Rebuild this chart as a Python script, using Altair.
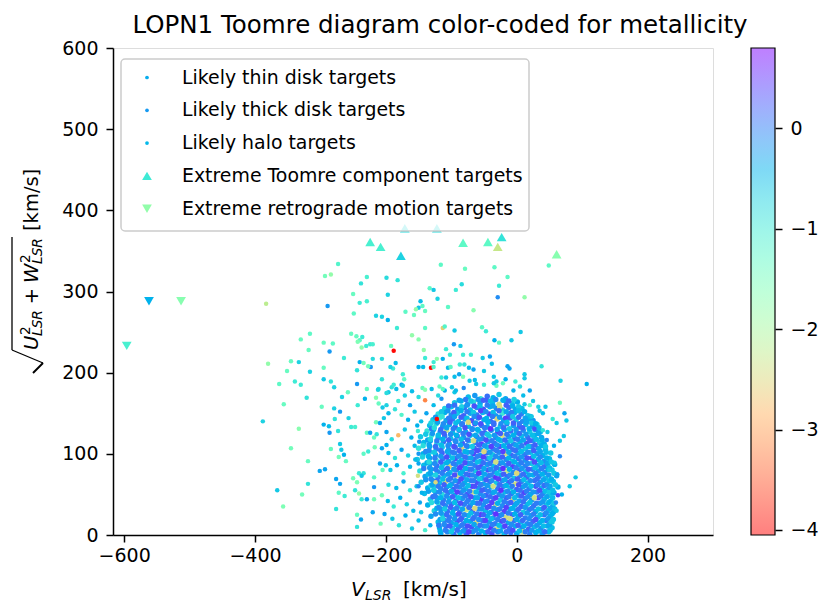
import math
import altair as alt
import pandas as pd

FONT = "DejaVu Sans"

# ---------------- data ----------------
# Likely thin disk targets (dense core), V_LSR [km/s]
thin_x = [
    -74, -64, -55, -45, -36, -27, -17,
    -95, -85, -75, -66, -56, -46, -37, -27, -17, -7, 1,
    -110, -100, -90, -80, -71, -61, -51, -41, -31, -22, -12, -2, 8,
    -120, -110, -100, -91, -81, -71, -61, -52, -42, -32, -22, -12, -3, 7, 17,
    -128, -118, -108, -98, -89, -79, -69, -59, -50, -40, -30, -20, -10, -1, 9, 19, 25,
    -133, -123, -113, -103, -94, -84, -74, -64, -54, -45, -35, -25, -15, -5, 4, 14, 24, 31,
    -137, -127, -117, -107, -98, -88, -78, -68, -58, -49, -39, -29, -19, -9, 0, 10, 20, 30, 36,
    -147, -130, -120, -110, -101, -91, -81, -71, -61, -52, -42, -32, -22, -12, -3, 7, 17, 27, 38,
    -142, -132, -122, -112, -103, -93, -83, -73, -63, -54, -44, -34, -24, -14, -5, 5, 15, 25, 35, 42,
    -150, -133, -123, -114, -104, -94, -84, -75, -65, -55, -45, -36, -26, -16, -6, 3, 13, 23, 33, 44,
    -143, -133, -124, -114, -104, -95, -85, -75, -66, -56, -46, -37, -27, -17, -8, 2, 12, 21, 31, 40, 52,
    -152, -133, -123, -113, -104, -94, -84, -75, -65, -55, -45, -36, -26, -16, -6, 3, 13, 23, 33, 42, 50,
    -142, -132, -122, -113, -103, -93, -84, -74, -64, -55, -45, -35, -26, -16, -6, 3, 13, 23, 32, 42, 58,
    -148, -131, -121, -112, -102, -92, -83, -73, -63, -54, -44, -34, -25, -15, -5, 4, 14, 24, 33, 43, 54,
    -140, -130, -120, -111, -101, -91, -82, -72, -62, -53, -43, -33, -24, -14, -4, 5, 15, 25, 34, 44, 61,
    -146, -128, -118, -109, -99, -89, -80, -70, -60, -51, -41, -31, -22, -12, -2, 7, 17, 27, 36, 46, 56,
    -136, -126, -116, -107, -97, -87, -78, -68, -58, -49, -39, -29, -20, -10, 0, 9, 19, 29, 38, 48, 63,
    -141, -124, -114, -105, -95, -85, -76, -66, -56, -47, -37, -27, -18, -8, 2, 11, 21, 31, 40, 50, 57,
    -132, -122, -112, -103, -93, -83, -74, -64, -54, -45, -35, -25, -16, -6, 4, 13, 23, 33, 42, 52,
    -136, -119, -109, -100, -90, -80, -71, -61, -51, -42, -32, -22, -13, -3, 7, 16, 26, 36, 45, 55,
    -126, -116, -106, -97, -87, -77, -68, -58, -48, -39, -29, -19, -10, 0, 10, 19, 29, 39, 48, 56,
    -131, -113, -103, -94, -84, -74, -65, -55, -45, -36, -26, -16, -7, 3, 13, 22, 32, 42, 51,
    -120, -110, -100, -91, -81, -71, -62, -52, -42, -33, -23, -13, -4, 6, 16, 25, 35, 45, 54,
    -118, -108, -98, -89, -79, -69, -60, -50, -40, -31, -21, -11, -2, 8, 18, 27, 37, 47, 54,
    -116, -106, -96, -87, -77, -67, -58, -48, -38, -29, -19, -9, 0, 10, 20, 29, 39, 49,
]
# sqrt(U^2 + W^2) [km/s]
thin_y = [
    170, 172, 168, 171, 169, 173, 168,
    163, 165, 161, 164, 162, 166, 163, 161, 165, 162, 164,
    156, 158, 155, 157, 154, 157, 155, 158, 156, 154, 157, 155, 156,
    149, 151, 148, 150, 147, 150, 148, 151, 149, 147, 150, 148, 151, 149, 147,
    142, 144, 141, 143, 140, 143, 141, 144, 142, 140, 143, 141, 144, 142, 140, 143, 141,
    135, 137, 134, 136, 133, 136, 134, 137, 135, 133, 136, 134, 137, 135, 133, 136, 134, 136,
    128, 130, 127, 129, 126, 129, 127, 130, 128, 126, 129, 127, 130, 128, 126, 129, 127, 130, 127,
    121, 123, 120, 122, 119, 122, 120, 123, 121, 119, 122, 120, 123, 121, 119, 122, 120, 123, 120,
    114, 116, 113, 115, 112, 115, 113, 116, 114, 112, 115, 113, 116, 114, 112, 115, 113, 116, 114, 112,
    107, 109, 106, 108, 105, 108, 106, 109, 107, 105, 108, 106, 109, 107, 105, 108, 106, 109, 107, 105,
    100, 102, 99, 101, 98, 101, 99, 102, 100, 98, 101, 99, 102, 100, 98, 101, 99, 102, 100, 98, 101,
    93, 95, 92, 94, 91, 94, 92, 95, 93, 91, 94, 92, 95, 93, 91, 94, 92, 95, 93, 91, 94,
    86, 88, 85, 87, 84, 87, 85, 88, 86, 84, 87, 85, 88, 86, 84, 87, 85, 88, 86, 84, 87,
    79, 81, 78, 80, 77, 80, 78, 81, 79, 77, 80, 78, 81, 79, 77, 80, 78, 81, 79, 77, 80,
    72, 74, 71, 73, 70, 73, 71, 74, 72, 70, 73, 71, 74, 72, 70, 73, 71, 74, 72, 70, 73,
    65, 67, 64, 66, 63, 66, 64, 67, 65, 63, 66, 64, 67, 65, 63, 66, 64, 67, 65, 63, 66,
    58, 60, 57, 59, 56, 59, 57, 60, 58, 56, 59, 57, 60, 58, 56, 59, 57, 60, 58, 56, 59,
    51, 53, 50, 52, 49, 52, 50, 53, 51, 49, 52, 50, 53, 51, 49, 52, 50, 53, 51, 49, 52,
    44, 46, 43, 45, 42, 45, 43, 46, 44, 42, 45, 43, 46, 44, 42, 45, 43, 46, 44, 42,
    37, 39, 36, 38, 35, 38, 36, 39, 37, 35, 38, 36, 39, 37, 35, 38, 36, 39, 37, 35,
    30, 32, 29, 31, 28, 31, 29, 32, 30, 28, 31, 29, 32, 30, 28, 31, 29, 32, 30, 28,
    23, 25, 22, 24, 21, 24, 22, 25, 23, 21, 24, 22, 25, 23, 21, 24, 22, 25, 23,
    16, 18, 15, 17, 14, 17, 15, 18, 16, 14, 17, 15, 18, 16, 14, 17, 15, 18, 16,
    9, 11, 8, 10, 7, 10, 8, 11, 9, 7, 10, 8, 11, 9, 7, 10, 8, 11, 9,
    2, 4, 1, 3, 2, 4, 1, 3, 2, 4, 1, 3, 2, 4, 1, 3, 2, 4,
]
# [Fe/H]
thin_feh = [
    -0.5, -0.2, -0.9, 0.1, -0.4, -0.6, -0.3,
    -0.6, -0.4, 0.0, -0.8, -0.3, 0.2, -0.5, -2.4, -0.1, -0.6, -0.4,
    -0.7, -0.5, -0.2, 0.1, -0.5, -0.1, 0.3, -0.4, 0.0, -0.6, 0.1, -0.3, -0.5,
    -0.8, -0.4, -0.1, -0.6, 0.2, -0.3, 0.0, -0.5, 0.4, -0.2, -1.0, 0.1, -0.4, 0.0, -0.6,
    -0.6, -1.1, -0.3, 0.1, -0.5, -0.2, 0.3, -0.1, -0.4, 0.1, -2.5, -0.3, 0.2, -0.6, -0.1, -0.4, -0.2,
    -0.5, -0.8, -0.2, -0.4, 0.2, -0.1, -0.5, 0.4, 0.0, -0.3, 0.1, -0.6, 0.0, -0.2, 0.3, -0.5, -0.1, -0.7,
    -0.9, -0.4, -0.1, -2.3, -0.5, 0.1, -0.3, 0.0, -0.6, 0.2, -0.2, 0.4, -0.4, 0.1, -0.3, -0.1, -0.6, -0.2, -0.5,
    -0.6, -1.0, -0.3, 0.0, -0.5, 0.3, -0.2, -0.4, 0.1, -0.1, -0.6, 0.0, -2.4, -0.3, 0.2, -0.5, 0.1, -0.4, -0.3,
    -0.5, -0.3, -0.8, 0.1, -0.4, -0.1, 0.2, -0.6, 0.0, 0.4, -0.3, 0.1, -0.5, -0.2, 0.0, -0.4, 0.3, -0.1, -0.6, -0.4,
    -0.9, -0.4, 0.0, -0.6, -0.2, 0.1, -2.6, -0.3, 0.2, -0.1, -0.5, 0.0, 0.3, -0.4, 0.1, -0.2, -0.6, 0.0, -0.3, -0.5,
    -0.4, -0.7, -0.2, 0.2, -0.5, -0.1, 0.0, -0.4, 0.4, -0.2, 0.1, -0.6, -0.1, -2.4, 0.2, -0.3, 0.0, -0.5, -0.2, -0.4, -0.6,
    -0.6, -0.2, -1.0, 0.0, -0.3, 0.3, -0.5, -0.1, 0.1, -0.4, 0.0, 0.2, -0.3, -0.1, -0.5, 0.1, -0.2, 0.4, -0.4, -0.1, -0.5,
    -0.5, -0.3, 0.1, -0.6, -2.5, -0.1, 0.2, -0.4, 0.0, 0.3, -0.2, -0.5, 0.1, -0.1, 0.4, -0.3, 0.0, -0.6, -0.2, 0.1, -0.4,
    -0.8, -0.4, -0.1, 0.2, -0.5, 0.0, -0.3, 0.1, -0.6, -0.2, 0.3, 0.0, -0.4, -2.3, -0.1, 0.2, -0.5, 0.0, -0.3, -0.1, -0.6,
    -0.3, -0.9, 0.0, -0.5, 0.1, -2.4, -0.2, 0.3, -0.1, -0.4, 0.0, 0.5, -0.3, 0.1, -0.6, -0.1, 0.2, -0.4, 0.0, -0.5, -0.3,
    -0.6, -0.2, -0.5, -2.5, -0.1, 0.2, -0.4, 0.0, 0.3, -0.3, 0.1, -0.6, -0.1, 0.2, -2.4, 0.0, -0.5, 0.1, -0.2, -0.4, -0.5,
    -0.4, -0.7, 0.0, -0.3, 0.2, -0.1, -0.5, 0.4, -0.2, 0.0, -0.4, 0.1, -0.1, -0.6, 0.2, -0.3, 0.0, 0.3, -0.5, -0.1, -0.4,
    -0.5, -0.2, -0.8, 0.1, -0.4, 0.0, 0.3, -2.4, -0.1, 0.2, -0.3, 0.0, -0.5, 0.1, -0.2, 0.4, -0.4, 0.0, -0.1, -0.6, -0.3,
    -0.6, -0.3, 0.0, -0.5, 0.2, -0.2, 0.0, -0.4, 0.5, -0.1, 0.1, -0.6, 0.2, -2.5, -0.3, 0.0, -0.2, 0.3, -0.5, -0.4,
    -0.4, -0.9, -0.1, 0.2, -0.5, 0.0, -0.3, 0.1, -0.2, 0.4, -2.4, -0.1, 0.0, -0.4, 0.2, -0.5, 0.1, -0.2, -0.6, -0.3,
    -0.7, -0.2, 0.1, -0.4, 0.0, -2.3, 0.3, -0.1, -0.5, 0.1, -0.2, 0.4, -0.3, 0.0, -0.6, 0.1, -0.4, -0.1, -0.5, -0.3,
    -0.3, -0.6, 0.0, -0.2, 0.2, -0.5, 0.0, 0.5, -0.3, -0.1, 0.1, -2.4, 0.2, -0.4, 0.0, -0.2, -0.5, 0.1, -0.4,
    -0.5, 0.0, -0.3, 0.3, -0.1, -0.4, -2.5, 0.1, -0.2, 0.0, 0.4, -0.3, 0.1, -0.5, -0.1, 0.2, -0.4, 0.0, -0.6,
    -0.4, 0.2, -0.6, -0.1, 0.0, 0.3, -0.3, -0.1, 0.5, -2.4, -0.2, 0.1, -0.4, 0.0, 0.2, -0.5, -0.1, -0.3, -0.5,
    -0.3, -0.1, 0.1, -0.5, 0.2, -0.2, 0.0, -0.4, 0.3, -0.1, -0.5, 0.1, -0.3, -2.3, 0.0, -0.4, -0.2, -0.5,
]

# more thin disk targets, lying between the rows above
thin2_x = [
    -88, -78, -70, -59, -51, -40, -32, -21, -12, -4,
    -104, -95, -84, -76, -65, -56, -45, -36, -26, -16, -6, 3,
    -115, -105, -96, -85, -76, -66, -55, -47, -36, -27, -16, -8, 3, 12,
    -124, -114, -104, -95, -85, -76, -65, -57, -46, -37, -26, -17, -6, 3, 13, 21,
    -131, -121, -112, -102, -93, -83, -74, -63, -55, -44, -35, -24, -15, -5, 4, 15, 23, 29,
    -130, -126, -116, -107, -97, -88, -79, -68, -60, -49, -40, -30, -20, -11, -1, 9, 19, 28, 34,
    -139, -129, -120, -111, -101, -92, -82, -73, -63, -53, -45, -34, -25, -15, -5, 4, 14, 24, 33,
    -136, -132, -122, -113, -104, -94, -85, -75, -66, -57, -47, -38, -28, -18, -9, 1, 10, 20, 30, 39,
    -143, -134, -124, -115, -105, -96, -86, -77, -68, -58, -49, -39, -30, -20, -11, -1, 8, 18, 28, 38, 44,
    -139, -134, -126, -116, -106, -98, -88, -79, -69, -60, -50, -41, -31, -21, -12, -2, 7, 17, 26, 36, 45,
    -144, -135, -125, -116, -107, -98, -89, -79, -70, -60, -51, -41, -32, -22, -12, -3, 7, 16, 26, 36, 46,
    -137, -134, -125, -116, -107, -97, -88, -79, -70, -60, -51, -41, -32, -22, -12, -3, 7, 17, 27, 37, 47, 53,
    -142, -133, -124, -115, -106, -96, -87, -78, -69, -59, -50, -40, -31, -21, -11, -1, 8, 18, 28, 38, 48, 50,
    -135, -132, -124, -114, -105, -95, -86, -77, -68, -58, -49, -39, -30, -20, -10, 0, 10, 19, 29, 39, 49, 57,
    -139, -131, -122, -113, -104, -94, -85, -76, -66, -57, -47, -38, -28, -18, -8, 1, 11, 21, 31, 41, 50, 53,
    -131, -129, -120, -111, -102, -92, -83, -74, -64, -55, -45, -36, -26, -16, -7, 3, 13, 22, 32, 42, 51, 59,
    -135, -127, -118, -109, -100, -91, -81, -72, -62, -53, -43, -34, -24, -14, -5, 5, 15, 25, 35, 44, 53, 55,
    -128, -125, -116, -107, -98, -89, -79, -70, -60, -51, -41, -32, -22, -12, -3, 7, 17, 27, 37, 46, 55,
    -130, -122, -113, -104, -95, -86, -76, -67, -57, -48, -38, -29, -19, -9, 0, 10, 20, 30, 40, 49, 57,
    -122, -119, -110, -101, -92, -83, -73, -64, -54, -45, -35, -26, -16, -6, 3, 13, 23, 33, 42, 51, 58,
    -124, -116, -107, -98, -89, -80, -70, -61, -51, -42, -32, -23, -13, -3, 6, 16, 26, 36, 45, 54,
    -117, -113, -104, -95, -86, -77, -67, -58, -48, -39, -29, -20, -10, 0, 9, 19, 29, 39, 48, 56,
    -119, -111, -102, -93, -84, -75, -65, -56, -46, -37, -27, -18, -8, 2, 11, 21, 31, 41, 50,
    -117, -109, -100, -91, -82, -73, -63, -54, -44, -35, -25, -16, -6, 4, 13, 23, 33, 43, 51,
]
thin2_y = [
    166, 167, 165, 167, 166, 165, 167, 166, 165, 167,
    159, 160, 158, 160, 159, 158, 160, 159, 158, 160, 159, 158,
    152, 153, 151, 153, 152, 151, 153, 152, 151, 153, 152, 151, 153, 152,
    145, 146, 144, 146, 145, 144, 146, 145, 144, 146, 145, 144, 146, 145, 144, 146,
    138, 139, 137, 139, 138, 137, 139, 138, 137, 139, 138, 137, 139, 138, 137, 139, 138, 137,
    131, 132, 130, 132, 131, 130, 132, 131, 130, 132, 131, 130, 132, 131, 130, 132, 131, 130, 132,
    124, 125, 123, 125, 124, 123, 125, 124, 123, 125, 124, 123, 125, 124, 123, 125, 124, 123, 125,
    117, 118, 116, 118, 117, 116, 118, 117, 116, 118, 117, 116, 118, 117, 116, 118, 117, 116, 118, 117,
    110, 111, 109, 111, 110, 109, 111, 110, 109, 111, 110, 109, 111, 110, 109, 111, 110, 109, 111, 110, 109,
    103, 104, 102, 104, 103, 102, 104, 103, 102, 104, 103, 102, 104, 103, 102, 104, 103, 102, 104, 103, 102,
    96, 97, 95, 97, 96, 95, 97, 96, 95, 97, 96, 95, 97, 96, 95, 97, 96, 95, 97, 96, 95,
    89, 90, 88, 90, 89, 88, 90, 89, 88, 90, 89, 88, 90, 89, 88, 90, 89, 88, 90, 89, 88, 90,
    82, 83, 81, 83, 82, 81, 83, 82, 81, 83, 82, 81, 83, 82, 81, 83, 82, 81, 83, 82, 81, 83,
    75, 76, 74, 76, 75, 74, 76, 75, 74, 76, 75, 74, 76, 75, 74, 76, 75, 74, 76, 75, 74, 76,
    68, 69, 67, 69, 68, 67, 69, 68, 67, 69, 68, 67, 69, 68, 67, 69, 68, 67, 69, 68, 67, 69,
    61, 62, 60, 62, 61, 60, 62, 61, 60, 62, 61, 60, 62, 61, 60, 62, 61, 60, 62, 61, 60, 62,
    54, 55, 53, 55, 54, 53, 55, 54, 53, 55, 54, 53, 55, 54, 53, 55, 54, 53, 55, 54, 53, 55,
    47, 48, 46, 48, 47, 46, 48, 47, 46, 48, 47, 46, 48, 47, 46, 48, 47, 46, 48, 47, 46,
    40, 41, 39, 41, 40, 39, 41, 40, 39, 41, 40, 39, 41, 40, 39, 41, 40, 39, 41, 40, 39,
    33, 34, 32, 34, 33, 32, 34, 33, 32, 34, 33, 32, 34, 33, 32, 34, 33, 32, 34, 33, 32,
    26, 27, 25, 27, 26, 25, 27, 26, 25, 27, 26, 25, 27, 26, 25, 27, 26, 25, 27, 26,
    19, 20, 18, 20, 19, 18, 20, 19, 18, 20, 19, 18, 20, 19, 18, 20, 19, 18, 20, 19,
    12, 13, 11, 13, 12, 11, 13, 12, 11, 13, 12, 11, 13, 12, 11, 13, 12, 11, 13,
    5, 6, 4, 6, 5, 4, 6, 5, 4, 6, 5, 4, 6, 5, 4, 6, 5, 4, 6,
]
thin2_feh = [
    -0.3, 0.0, -0.6, -0.2, 0.2, -0.5, -0.1, -0.4, 0.1, -0.7,
    0.1, 0.1, -0.7, -0.2, 0.3, -0.5, 0.0, -0.3, -2.4, 0.2, -0.4, -0.6,
    -0.6, -0.2, 0.2, -0.4, 0.0, -0.6, 0.4, -0.1, -0.5, 0.1, -0.3, 0.0, -0.5, -0.4,
    -0.2, -0.9, 0.0, -0.3, 0.2, -0.5, -0.1, 0.3, -0.4, 0.0, -0.2, 0.4, -0.6, 0.1, -0.3, -0.5,
    -0.7, -0.3, -0.1, 0.2, -0.5, 0.0, -2.5, -0.2, 0.3, -0.4, 0.1, -0.1, -0.5, 0.2, 0.0, -0.3, -0.6, -0.4,
    0.0, -0.8, 0.1, -0.3, 0.0, -0.5, 0.3, -0.1, -0.4, 0.0, 0.5, -0.3, 0.1, -0.6, -0.2, 0.2, -0.4, -0.1, -0.5,
    -0.6, -0.2, -0.5, 0.2, -0.1, -0.4, 0.0, 0.3, -0.3, 0.1, -0.6, -0.2, 0.2, 0.0, -0.4, 0.1, -0.2, -0.5, -0.3,
    -0.3, -0.7, 0.0, -0.4, 0.2, -0.1, -0.5, 0.1, -2.4, -0.2, 0.3, 0.0, -0.4, 0.1, -0.6, 0.0, -0.3, 0.2, -0.5, -0.4,
    -0.8, -0.3, 0.1, -0.5, -0.1, 0.3, -0.3, 0.0, -0.6, 0.2, -0.2, 0.4, -0.1, -0.4, 0.1, -0.3, 0.0, -0.5, 0.2, -0.4, -0.6,
    -0.1, -0.1, -0.6, 0.1, -0.3, 0.0, 0.2, -0.4, -0.1, 0.3, -2.5, -0.2, 0.0, 0.4, -0.3, 0.1, -0.5, -0.1, 0.2, -0.3, -0.5,
    -0.7, -0.4, 0.0, -0.2, 0.3, -0.5, -0.1, 0.1, -0.3, 0.0, 0.4, -0.6, -0.1, 0.2, -0.4, 0.0, -0.2, 0.3, -0.5, -0.1, -0.4,
    -0.4, -0.8, -0.1, 0.2, -0.4, 0.0, -0.3, 0.3, -0.1, -0.5, 0.1, 0.0, -2.4, -0.2, 0.2, -0.4, 0.0, -0.1, 0.3, -0.5, -0.3, -0.6,
    0.0, -0.2, 0.0, -0.5, 0.1, -0.2, 0.4, -0.4, 0.0, 0.2, -0.3, -0.1, 0.1, 0.5, -0.4, 0.0, -0.2, 0.2, -0.5, 0.0, -0.4, -0.5,
    -0.5, -0.3, -0.7, 0.0, -0.2, 0.3, -0.4, 0.1, -0.1, 0.4, -0.3, 0.0, -0.5, 0.2, -0.1, -2.5, 0.1, -0.3, 0.0, -0.4, -0.2, -0.6,
    -0.2, -0.1, 0.1, -0.5, 0.0, -0.2, 0.3, -0.3, 0.0, -0.6, 0.2, -0.1, 0.4, -0.3, 0.0, 0.2, -0.5, -0.1, 0.1, -0.3, -0.5, -0.4,
    -0.7, -0.3, 0.0, 0.2, -0.4, 0.1, -0.1, -0.5, 0.3, 0.0, -0.2, -2.4, 0.1, -0.4, 0.0, 0.3, -0.2, -0.5, 0.0, 0.1, -0.3, -0.6,
    -0.3, -0.6, -0.1, 0.1, -0.3, 0.4, -0.2, 0.0, -0.5, 0.2, 0.0, -0.3, 0.5, -0.1, -0.4, 0.1, 0.0, -0.2, 0.3, -0.5, -0.4, -0.5,
    0.1, 0.0, -0.4, -0.1, 0.2, -0.5, 0.0, 0.3, -0.3, -0.1, 0.1, 0.4, -0.2, 0.0, -0.5, 0.2, -0.1, -2.4, 0.0, -0.3, -0.5,
    -0.8, -0.3, 0.1, -0.2, -0.5, 0.3, 0.0, -0.3, 0.1, -0.1, 0.4, -0.4, 0.0, 0.2, -0.3, 0.1, -0.5, 0.0, -0.2, -0.4, -0.6,
    -0.4, -0.1, -0.6, 0.2, 0.0, -0.3, 0.1, -2.5, -0.2, 0.3, -0.1, 0.0, 0.4, -0.4, 0.1, -0.2, 0.0, -0.5, 0.2, -0.3, -0.5,
    -0.1, -0.2, 0.1, -0.4, 0.3, -0.1, -0.5, 0.0, 0.2, -0.3, 0.5, -0.1, 0.0, -0.4, 0.2, -0.2, 0.0, -0.5, -0.1, -0.4,
    -0.3, -0.7, 0.0, -0.2, 0.2, -0.4, 0.1, -0.1, 0.4, -0.5, 0.0, 0.2, -2.4, -0.3, 0.1, -0.1, 0.3, -0.4, -0.2, -0.6,
    0.0, -0.1, 0.2, -0.4, 0.0, 0.3, -0.3, 0.1, -0.2, 0.0, -0.5, 0.4, -0.1, 0.2, -0.4, 0.0, -0.2, -0.5, -0.3,
    -0.4, 0.0, -0.6, 0.1, -0.2, 0.4, -0.1, -0.4, 0.2, 0.0, -0.3, 0.1, 0.3, -0.5, 0.0, -0.2, -0.4, 0.1, -0.5,
]

# Likely thick disk targets (intermediate zone around the core)
thick_x = [
    -196, -191, -184, -176, -171, -181, -160, -163, -150,
    -196, -186, -176, -166, -156, -146,
    -199, -191, -171, -161, -151,
    -196, -186, -176, -166, -156, -150,
    -193, -183, -173, -163, -150,
    -196, -184, -173, -163, -153, -145,
    -197, -188, -178, -168, -158, -148,
    -190, -180, -170, -160, -150, -140, -132,
    -130, -120, -110, -95, -5, 5, 10, 20, 25, 33, 40,
    -14, -11, -31, -21, -17, -2, 12, 12, -31, 12,
    20, 35, 44, 23, 40, 27, 47, 46, 66, 58,
    50, 61, 52, 46, 49,
    -152, -149, -155, -150, -146, -138, -127, -115, 62, 60, 57,
    -140, -122, -181, -151, -124,
]
thick_y = [
    176, 182, 180, 185, 172, 165, 177, 160, 170,
    150, 155, 148, 142, 152, 140,
    127, 118, 130, 120, 128,
    101, 95, 105, 98, 110, 100,
    80, 86, 76, 84, 88,
    62, 58, 66, 55, 60, 52,
    42, 35, 46, 38, 30, 40,
    20, 12, 24, 8, 18, 6, 12,
    180, 172, 178, 176, 178, 183, 172, 178, 165, 158, 150,
    208, 205, 189, 187, 192, 189, 198, 193, 184, 161,
    160, 153, 158, 146, 129, 131, 127, 117, 97, 89,
    80, 30, 16, 62, 53,
    135, 115, 93, 60, 28, 150, 160, 168, 75, 40, 110,
    166, 143, 123, 73, 65,
]
thick_feh = [
    -0.6, -0.9, -0.5, -0.3, -0.7, -1.0, -0.5, -0.3, -0.8,
    -0.5, -0.9, -1.2, -0.4, -0.6, -0.5,
    -0.3, -0.8, -0.6, -0.4, -1.0,
    -0.5, -0.9, -0.3, -0.7, -0.5, -0.2,
    -0.6, -0.4, -1.1, -0.5, -0.3,
    -0.8, -0.5, -0.3, -0.9, -0.6, -0.4,
    -0.5, -1.0, -0.4, -0.7, -0.5, -0.3,
    -0.6, -0.9, -0.4, -0.6, -0.5, -1.1, -0.4,
    -0.5, -0.8, -0.4, -0.6, -0.4, -0.8, -0.5, -0.3, -0.6, -0.7, -0.5,
    -0.3, -0.3, -0.6, -1.4, -0.4, -1.0, -0.6, -0.6, -1.4, -0.6,
    -1.3, -0.6, -0.6, -0.6, -0.9, 0.3, -0.6, -0.1, -0.1, -0.6,
    -0.6, -0.6, -0.6, -0.1, -0.6,
    -0.4, -0.2, -0.5, -0.1, -0.6, -0.3, -0.5, -0.2, -0.3, -0.1, -0.4,
    -3.2, -4.0, -2.8, -2.4, -2.5,
]

# Likely halo targets (sparse, high velocity)
halo_x = [
    -273, -293, -284, -229, -238, -199, -250, -240, -229, -197,
    -383, -289, -249, -215, -206, -197, -316, -330, -253, -245,
    -240, -236, -243, -295, -281, -318, -286, -237, -230, -224,
    -220, -264, -345, -333, -380, -240, -234, -223, -220, -206,
    -351, -316, -295, -244, -227, -206, -363, -339, -330, -295,
    -284, -279, -244, -229, -211, -321, -356, -267, -258, -232,
    -215, -212, -199, -298, -279, -270, -243, -211, -205, -199,
    -388, -333, -278, -257, -295, -287, -286, -273, -253, -247,
    -215, -203, -209, -229, -224, -214, -218, -345, -284, -270,
    -268, -272, -264, -261, -234, -227, -217, -206, -199, -319,
    -301, -293, -241, -234, -237, -209, -205, -200, -276, -270,
    -250, -244, -218, -366, -319, -328, -272, -263, -247, -241,
    -237, -229, -218, -218, -206, -357, -276, -244, -238, -220,
    -202, -244, -208, -116, -79, -182, -133, -127, -93, -84,
    -121, -147, -144, -150, -105, -66, -154, -170, -140, -157,
    -183, -140, -113, -110, -95, -53, -47, -160, -150, -192,
    -188, -142, -108, -96, -86, -102, -82, -70, -52, -41,
    -140, -122, -113, -185, -127, -189, -193, -150, -143, -131,
    -127, -105, -101, -87, -80, -73, -66, -50, -38, -174,
    -172, -115, -108, -95, -88, -82, -72, -64, -62, -50,
    -188, -174, -144, -140, -118, -113, -99, -93, -81, -35,
    -35, -34, -34, -14, -27, -29, 12, -27, -8, 6,
    38, 67, 107, 66, 73, 55, 61, 76, 72, 66,
    90, 81, 69, 63, 49,
]
halo_y = [
    334, 319, 321, 318, 310, 317, 297, 286, 288, 296,
    285, 282, 273, 270, 269, 265, 248, 241, 248, 245,
    240, 244, 238, 237, 236, 228, 226, 231, 233, 235,
    235, 218, 214, 213, 211, 213, 212, 207, 217, 217,
    202, 201, 206, 203, 208, 192, 186, 189, 185, 192,
    189, 182, 186, 180, 180, 169, 161, 170, 176, 168,
    169, 179, 175, 158, 156, 152, 160, 162, 157, 160,
    140, 131, 143, 144, 136, 134, 126, 128, 133, 133,
    139, 144, 138, 126, 126, 124, 120, 107, 106, 112,
    105, 96, 99, 91, 100, 103, 108, 107, 111, 91,
    79, 81, 76, 76, 73, 88, 80, 86, 69, 63,
    70, 65, 71, 55, 63, 50, 52, 48, 55, 51,
    44, 44, 59, 44, 49, 35, 32, 25, 19, 28,
    26, 10, 14, 333, 328, 314, 304, 302, 302, 309,
    291, 288, 282, 280, 281, 277, 278, 275, 276, 271,
    255, 255, 255, 257, 252, 256, 251, 246, 241, 233,
    227, 228, 229, 235, 233, 222, 222, 222, 218, 220,
    218, 217, 217, 212, 213, 205, 207, 207, 207, 206,
    207, 206, 207, 210, 210, 206, 204, 202, 211, 198,
    192, 194, 194, 195, 198, 195, 190, 191, 186, 185,
    185, 184, 181, 179, 183, 180, 182, 178, 181, 195,
    187, 240, 330, 318, 307, 293, 293, 237, 240, 250,
    208, 190, 186, 163, 150, 143, 138, 141, 122, 116,
    71, 60, 50, 49, 332,
]
halo_feh = [
    -1.2, -1.5, -1.8, -1.1, -0.9, -0.8, -1.4, -1.0, -1.1, -0.7,
    -2.2, -0.2, -1.3, -0.7, -0.7, -0.4, -1.3, -1.4, -1.4, -1.4,
    -1.3, -1.0, -1.6, -1.4, -1.3, -1.4, -0.2, -1.8, -1.0, -1.0,
    -1.1, -1.0, -1.4, -0.7, -1.8, -0.4, -1.5, -0.2, -0.8, -0.8,
    -1.4, -0.7, -1.4, -0.9, -1.5, -0.9, -1.3, -1.0, -1.0, -0.6,
    -0.9, -0.7, -0.2, -1.4, -0.9, -0.9, -1.4, -0.7, -1.4, -0.4,
    -1.7, -0.7, -0.8, -1.4, -0.7, -0.2, -1.0, -1.4, -0.6, -0.7,
    -0.7, -1.7, -0.9, -0.7, -0.4, -0.5, -0.2, -0.9, -1.0, -1.1,
    -1.5, -0.6, -0.3, -1.4, -0.3, -0.9, -1.4, -1.5, -1.4, -0.6,
    -0.6, -1.5, -0.4, -1.4, -1.3, -1.0, -1.5, -0.3, -0.4, -1.4,
    -0.3, -0.3, -1.0, -0.9, -0.6, -0.3, -1.4, -0.6, -0.3, -0.3,
    -1.5, -1.6, -1.3, -0.6, -0.9, -1.5, -1.3, -1.0, -0.9, -1.8,
    -1.0, -0.3, -0.2, -1.5, -1.5, -1.6, -0.9, -1.4, -0.3, -0.3,
    -0.3, -0.9, -1.5, -1.3, -1.4, -0.9, -1.3, -0.6, -1.0, -0.8,
    -0.7, -0.5, -1.3, -0.6, -1.3, -1.7, -1.8, -1.3, -1.4, -1.4,
    -1.0, -1.3, -2.6, -1.2, -0.6, -1.3, -1.0, -1.8, -1.7, -1.4,
    -4.0, -1.8, -1.0, -0.2, -0.6, -1.0, -1.0, -1.0, -0.6, -0.3,
    -1.0, -1.8, -0.4, -0.5, -1.0, -1.0, -0.7, -0.4, -0.5, -4.0,
    -1.2, -0.5, -1.3, -1.0, -0.9, -0.5, -0.3, -0.6, -0.5, -1.0,
    -1.3, -1.0, -0.6, -0.5, -0.3, -1.6, -0.6, -0.5, -0.6, -1.0,
    -1.0, -0.6, -1.4, -1.7, -1.4, -1.3, -0.6, -0.5, -0.1, -0.6,
    -0.6, -0.4, -1.3, -1.3, -1.0, -0.1, -1.8, -1.3, -0.6, -0.6,
    -0.9, -0.7, -0.4, -1.4, -0.3, -1.0, -0.6, -0.6, -0.6, -0.6,
    -0.6, -0.6, -0.4, 0.4, -1.3,
]

# Extreme Toomre component targets
toomre_x = [-224, -208, -177, -171, -122, -82, -44, -23, -29, 61]
toomre_y = [361, 355, 344, 378, 378, 360, 361, 367, 355, 346]
toomre_feh = [-1.1, -1.1, -0.7, -0.8, -0.8, -1.3, -1.3, -0.9, -2.3, -1.7]

# Extreme retrograde motion targets
retro_x = [-562, -513, -596]
retro_y = [288, 288, 233]
retro_feh = [-0.4, -1.7, -1.1]

x_ticks = [-600, -400, -200, 0, 200]
y_ticks = [0, 100, 200, 300, 400, 500, 600]
cbar_ticks = [-4, -3, -2, -1, 0]
feh_min, feh_max = -4.05, 0.80
v_domain = [-617, 300]
uw_domain = [0, 600]

title_text = "LOPN1 Toomre diagram color-coded for metallicity"
legend_labels = [
    "Likely thin disk targets",
    "Likely thick disk targets",
    "Likely halo targets",
    "Extreme Toomre component targets",
    "Extreme retrograde motion targets",
]
legend_feh = [-0.35, -0.2, -0.45, -1.0, -1.8]
legend_shapes = ["circle", "circle", "circle", "triangle-up", "triangle-down"]


# ---------------- colormap (matplotlib "rainbow", reversed) ----------------
def rainbow_hex(t):
    r = min(1.0, abs(2 * t - 0.5))
    g = max(0.0, math.sin(math.pi * t))
    b = max(0.0, math.cos(math.pi * t / 2))
    return "#{:02x}{:02x}{:02x}".format(round(r * 255), round(g * 255), round(b * 255))


def feh_color(v):
    t = (feh_max - v) / (feh_max - feh_min)
    return rainbow_hex(min(1.0, max(0.0, t)))


N_STOPS = 16
color_domain = [feh_min + (feh_max - feh_min) * i / N_STOPS for i in range(N_STOPS + 1)]
color_range = [feh_color(v) for v in color_domain]

# ---------------- table ----------------
groups = [
    ("thin", thin_x, thin_y, thin_feh, "circle", 30),
    ("thin", thin2_x, thin2_y, thin2_feh, "circle", 30),
    ("thick", thick_x, thick_y, thick_feh, "circle", 20),
    ("halo", halo_x, halo_y, halo_feh, "circle", 20),
    ("toomre", toomre_x, toomre_y, toomre_feh, "triangle-up", 95),
    ("retro", retro_x, retro_y, retro_feh, "triangle-down", 95),
]
rows = []
for name, xs, ys, fs, shp, sz in groups:
    assert len(xs) == len(ys) == len(fs), (name, len(xs), len(ys), len(fs))
    for xv, yv, fv in zip(xs, ys, fs):
        rows.append({"v": xv, "uw": yv, "feh": fv, "grp": name, "shp": shp, "sz": sz, "ord": len(rows)})
df = pd.DataFrame(rows)

W, H = 600, 487
FS = 19
AX = dict(
    labelFont=FONT, labelFontSize=FS, labelColor="black", tickColor="black",
    tickSize=7, tickWidth=1.5, domainColor="black", domainWidth=1.5,
    grid=False, title=None, labelFlush=False, labelOverlap=False,
)

points = alt.Chart(df).mark_point(filled=True, opacity=1, strokeWidth=0, clip=True).encode(
    x=alt.X("v:Q", scale=alt.Scale(domain=v_domain, nice=False, zero=False),
            axis=alt.Axis(values=x_ticks, labelPadding=4, **AX)),
    y=alt.Y("uw:Q", scale=alt.Scale(domain=uw_domain, nice=False, zero=False),
            axis=alt.Axis(values=y_ticks, labelPadding=8, orient="left", **AX)),
    color=alt.Color("feh:Q", scale=alt.Scale(domain=color_domain, range=color_range, interpolate="rgb"),
                    legend=None),
    shape=alt.Shape("shp:N", scale=None),
    size=alt.Size("sz:Q", scale=None),
    order=alt.Order("ord:Q"),
)

# colorbar
cbar_df = pd.DataFrame({"lo": [feh_min], "hi": [feh_max]})
grad = alt.LinearGradient(
    gradient="linear",
    stops=[alt.GradientStop(color=c, offset=i / N_STOPS) for i, c in enumerate(color_range)],
    x1=0, x2=0, y1=1, y2=0,
)
cbar_ax = dict(AX)
cbar_ax["domain"] = False
cbar = alt.Chart(cbar_df).mark_rect(fill=grad, fillOpacity=0.5, stroke="black", strokeWidth=1.2).encode(
    x=alt.value(638), x2=alt.value(662),
    y=alt.Y("lo:Q", scale=alt.Scale(domain=[feh_min, feh_max], nice=False, zero=False),
            axis=alt.Axis(values=cbar_ticks, orient="right", offset=62, labelPadding=8, **cbar_ax)),
    y2="hi:Q",
)

dummy = pd.DataFrame({"k": [0]})


def txt(text, x, y, size=FS, italic=False, angle=0, align="left", baseline="alphabetic"):
    kw = dict(text=text, font=FONT, fontSize=size, color="black", align=align, baseline=baseline)
    if italic:
        kw["fontStyle"] = "italic"
    if angle:
        kw["angle"] = angle
    return alt.Chart(dummy).mark_text(**kw).encode(x=alt.value(x), y=alt.value(y))


def seg(x1, y1, x2, y2, w=1.3):
    return alt.Chart(dummy).mark_rule(color="black", strokeWidth=w).encode(
        x=alt.value(x1), y=alt.value(y1), x2=alt.value(x2), y2=alt.value(y2))


# legend box
box = alt.Chart(dummy).mark_rect(fill="white", fillOpacity=0.8, stroke="#cccccc", strokeWidth=1.5,
                                 cornerRadius=4).encode(
    x=alt.value(8), x2=alt.value(416), y=alt.value(11), y2=alt.value(183))

layers = [points, cbar, box]
for i, (lab, f, shp) in enumerate(zip(legend_labels, legend_feh, legend_shapes)):
    yy = 29.5 + 32.8 * i
    sz = 14 if shp == "circle" else 95
    layers.append(alt.Chart(dummy).mark_point(shape=shp, filled=True, size=sz, color=feh_color(f),
                                              opacity=1, strokeWidth=0).encode(
        x=alt.value(34), y=alt.value(yy)))
    layers.append(txt(lab, 69, yy, size=18.9, baseline="middle"))

# title
layers.append(txt(title_text, 327, -15, size=24.5, align="center"))

# x-axis label  V_LSR [km/s]
layers.append(txt("V", 238, 548, size=20, italic=True))
layers.append(txt("LSR", 252, 552, size=14, italic=True))
layers.append(txt("[km/s]", 290, 548, size=20))

# y-axis label  sqrt(U^2_LSR + W^2_LSR) [km/s]  (rotated)
layers.append(txt("U", -75, 302, size=19.5, italic=True, angle=270))
layers.append(txt("2", -83, 287, size=13.7, angle=270))
layers.append(txt("LSR", -71, 288, size=13.7, italic=True, angle=270))
layers.append(txt("+", -75, 248, size=19.5, angle=270, align="center"))
layers.append(txt("W", -75, 235, size=19.5, italic=True, angle=270))
layers.append(txt("2", -83, 215, size=13.7, angle=270))
layers.append(txt("LSR", -71, 216, size=13.7, italic=True, angle=270))
layers.append(txt("[km/s]", -75, 183, size=19.5, angle=270))
layers.append(seg(-80, 325, -70, 315, w=2.0))
layers.append(seg(-70, 315, -101, 302, w=1.3))
layers.append(seg(-101, 302, -101, 189, w=1.3))

chart = alt.layer(*layers).resolve_scale(y="independent").properties(
    width=W, height=H,
    autosize=alt.AutoSizeParams(type="none"),
    padding={"left": 113, "top": 48, "right": 111, "bottom": 67},
).configure_view(stroke="black", strokeWidth=1.5).configure(background="white")

chart.save("out.html", embed_options={"renderer": "svg", "actions": False})
